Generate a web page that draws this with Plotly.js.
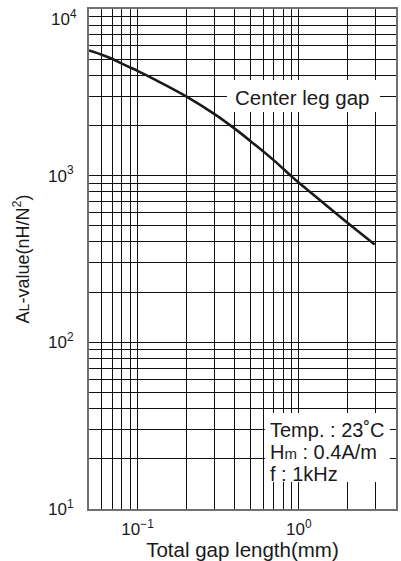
<!DOCTYPE html>
<html>
<head>
<meta charset="utf-8">
<script src="https://cdn.plot.ly/plotly-3.0.1.min.js"></script>
<style>
  html, body { margin: 0; padding: 0; background: #fff; }
  #chart { width: 401px; height: 561px; }
</style>
</head>
<body>
<div id="chart"></div>
<script>
// ---- data ----
var gapLength = [0.05, 0.06, 0.07, 0.08, 0.09, 0.1, 0.13, 0.2, 0.3, 0.4, 0.5, 0.7, 0.9, 1, 1.5, 2, 2.95];
var alValue   = [5640, 5320, 5010, 4700, 4455, 4255, 3740, 2990, 2340, 1915, 1615, 1235, 990, 908, 655, 521, 386];

// ticks and grid
var xTickVals = [0.1, 1];
var xTickText = ['10<sup>\u22121</sup>', '10<sup>0</sup>'];
var xGridVals = [0.06, 0.07, 0.08, 0.09, 0.2, 0.3, 0.4, 0.5, 0.6, 0.7, 0.8, 0.9, 2, 3];
var yTickVals = [10, 100, 1000];
var yTickText = ['10<sup>1</sup>', '10<sup>2</sup>', '10<sup>3</sup>'];
var yTopTickVal = 10000;
var yTopTickText = '10<sup>4</sup>';
var yMultipliers = [2, 3, 4, 5, 6, 7, 8, 9];
var yGridVals = [];
yTickVals.forEach(function (d) {
  yMultipliers.forEach(function (m) { yGridVals.push(d * m); });
});

var FONT = '"Liberation Sans", Arial, Helvetica, sans-serif';
var INK = '#1a1a1a';
var GRID = '#0f0f0f';
var BORDER = '#707070';

var trace = {
  x: gapLength,
  y: alValue,
  type: 'scatter',
  mode: 'lines',
  line: { color: INK, width: 2.6, shape: 'spline', smoothing: 1 },
  hoverinfo: 'skip'
};

function axisBase() {
  return {
    type: 'log',
    tickmode: 'array',
    showgrid: true,
    gridcolor: GRID,
    gridwidth: 1,
    zeroline: false,
    showline: true,
    linecolor: BORDER,
    linewidth: 2,
    mirror: true,
    ticks: '',
    tickfont: { family: FONT, size: 17, color: INK }
  };
}

var xaxis = axisBase();
xaxis.range = [Math.log10(0.05), Math.log10(4)];
xaxis.tickvals = xTickVals;
xaxis.ticktext = xTickText;
xaxis.ticklabelstandoff = 4;
xaxis.minor = { tickmode: 'array', tickvals: xGridVals, showgrid: true, gridcolor: GRID, gridwidth: 1, ticks: '' };
xaxis.title = { text: 'Total gap length(mm)', font: { family: FONT, size: 20.5, color: INK }, standoff: 5 };

var yaxis = axisBase();
yaxis.range = [1, 4];
yaxis.tickvals = yTickVals;
yaxis.ticktext = yTickText;
yaxis.ticklabelstandoff = 10;
yaxis.minor = { tickmode: 'array', tickvals: yGridVals, showgrid: true, gridcolor: GRID, gridwidth: 1, ticks: '' };
yaxis.title = {
  text: 'A<span style="font-size:14px">L</span>-value(nH/N<sup>2</sup>)',
  font: { family: FONT, size: 18, color: INK },
  standoff: 14
};

var layout = {
  width: 401,
  height: 561,
  margin: { l: 89, r: 5, t: 9, b: 52 },
  paper_bgcolor: '#ffffff',
  plot_bgcolor: '#ffffff',
  showlegend: false,
  font: { family: FONT, color: INK, size: 17 },
  xaxis: xaxis,
  yaxis: yaxis,
  shapes: [
    { type: 'rect', xref: 'paper', yref: 'paper', x0: 0.4495, x1: 0.948, y0: 0.794, y1: 0.858,
      fillcolor: '#ffffff', line: { width: 0 }, layer: 'above' },
    { type: 'rect', xref: 'paper', yref: 'paper', x0: 0.573, x1: 0.980, y0: 0.054, y1: 0.192,
      fillcolor: '#ffffff', line: { width: 0 }, layer: 'above' }
  ],
  annotations: [
    // top decade label, nudged down so that it stays inside the page
    { xref: 'paper', yref: 'y', x: 0, y: Math.log10(yTopTickVal), xanchor: 'right', yanchor: 'middle',
      xshift: -10, yshift: -9, text: yTopTickText, showarrow: false,
      font: { family: FONT, size: 17, color: INK } },
    { xref: 'paper', yref: 'paper', x: 0.694, y: 0.824, xanchor: 'center', yanchor: 'middle',
      text: 'Center leg gap', showarrow: false, font: { family: FONT, size: 20.5, color: INK } },
    { xref: 'paper', yref: 'paper', x: 0.584, y: 0.158, xanchor: 'left', yanchor: 'middle',
      text: 'Temp. : 23\u02DAC', showarrow: false, font: { family: FONT, size: 20, color: INK } },
    { xref: 'paper', yref: 'paper', x: 0.584, y: 0.114, xanchor: 'left', yanchor: 'middle',
      text: 'H<span style="font-size:15px">m</span> : 0.4A/m', showarrow: false, font: { family: FONT, size: 20, color: INK } },
    { xref: 'paper', yref: 'paper', x: 0.584, y: 0.070, xanchor: 'left', yanchor: 'middle',
      text: 'f : 1kHz', showarrow: false, font: { family: FONT, size: 20, color: INK } }
  ]
};

Plotly.newPlot('chart', [trace], layout, { displayModeBar: false });
</script>
</body>
</html>
